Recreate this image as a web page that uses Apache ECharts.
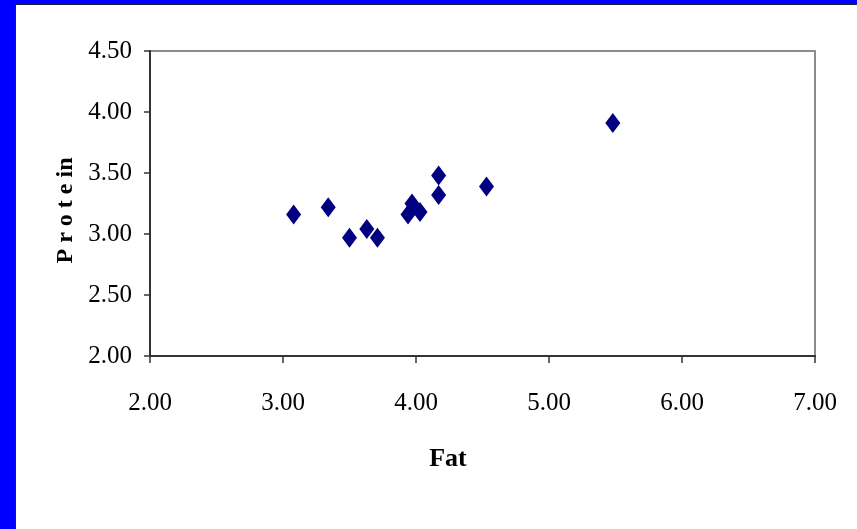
<!DOCTYPE html>
<html>
<head>
<meta charset="utf-8">
<script src="https://cdn.jsdelivr.net/npm/echarts@6/dist/echarts.min.js"></script>
<style>
html,body{margin:0;padding:0;background:#fff;}
#chart{width:857px;height:529px;}
</style>
</head>
<body>
<div id="chart"></div>
<script>
const fat = [3.08, 3.34, 3.50, 3.63, 3.71, 3.94, 3.97, 4.03, 4.17, 4.17, 4.53, 5.48];
const protein = [3.16, 3.22, 2.97, 3.04, 2.97, 3.16, 3.25, 3.18, 3.32, 3.48, 3.39, 3.91];
const xTitle = 'Fat';
const yTitle = 'P r o t e in';

const points = fat.map((f, i) => [f, protein[i]]);
const serif = "'Liberation Serif','Times New Roman',serif";
const chart = echarts.init(document.getElementById('chart'));
chart.setOption({
  animation: false,
  backgroundColor: '#fff',
  graphic: [
    { type: 'rect', left: 0, top: 0, shape: { width: 16, height: 529 }, style: { fill: '#0000ff' }, z: 10 },
    { type: 'rect', left: 0, top: 0, shape: { width: 857, height: 5 }, style: { fill: '#0000ff' }, z: 10 },
    { type: 'rect', left: 15, top: 4, shape: { width: 1, height: 525 }, style: { fill: '#202040' }, z: 11 },
    { type: 'rect', left: 15, top: 4, shape: { width: 842, height: 1 }, style: { fill: '#202040' }, z: 11 }
  ],
  grid: { left: 150, top: 51, right: 42, bottom: 173, show: true, borderColor: '#8c8c8c', borderWidth: 2, backgroundColor: '#fff' },
  xAxis: {
    type: 'value', min: 2, max: 7, interval: 1,
    name: xTitle, nameLocation: 'middle', nameGap: 90,
    nameTextStyle: { fontFamily: serif, fontWeight: 'bold', fontSize: 26, color: '#000', padding: [0, 69, 0, 0] },
    axisLine: { show: true, onZero: false, lineStyle: { color: '#333', width: 2 } },
    axisTick: { show: true, inside: false, length: 7, lineStyle: { color: '#333', width: 1.5 } },
    axisLabel: { margin: 35, fontFamily: serif, fontSize: 25, color: '#000', formatter: v => v.toFixed(2) },
    splitLine: { show: false }
  },
  yAxis: {
    type: 'value', min: 2, max: 4.5, interval: 0.5,
    name: yTitle, nameLocation: 'middle', nameGap: 70, nameRotate: 90,
    nameTextStyle: { fontFamily: serif, fontWeight: 'bold', fontSize: 24, color: '#000', padding: [0, 14, 0, 0] },
    axisLine: { show: true, onZero: false, lineStyle: { color: '#333', width: 2 } },
    axisTick: { show: true, inside: false, length: 6, lineStyle: { color: '#333', width: 1.5 } },
    axisLabel: { margin: 18, fontFamily: serif, fontSize: 25, color: '#000', formatter: v => v.toFixed(2) },
    splitLine: { show: false }
  },
  series: [{
    type: 'scatter',
    data: points,
    symbol: 'diamond',
    symbolSize: [15, 20],
    itemStyle: { color: '#000080', opacity: 1 }
  }]
});
</script>
</body>
</html>
